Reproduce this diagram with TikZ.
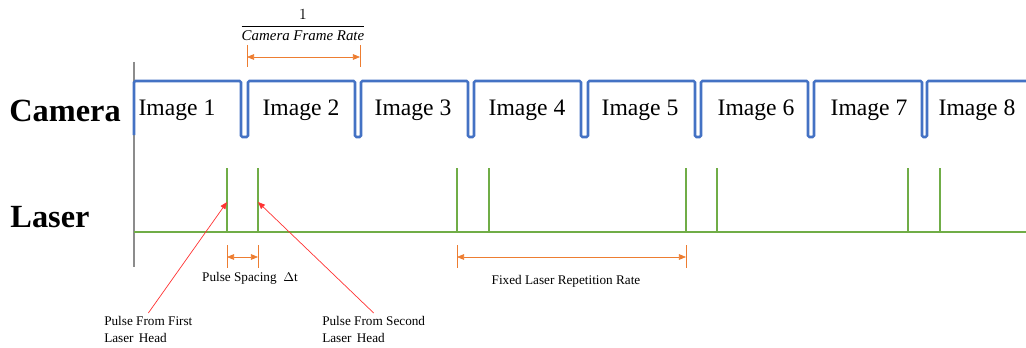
\documentclass[tikz,border=0pt]{standalone}
\usepackage{amsmath,amssymb}
\usepackage{fontspec}
\setmainfont{Liberation Serif}
\usepackage{tikz}
\usetikzlibrary{arrows.meta,positioning,calc}

\definecolor{camblue}{RGB}{68,114,196}
\definecolor{lasgreen}{RGB}{112,173,71}
\definecolor{dimorange}{RGB}{237,125,49}
\definecolor{axisgray}{RGB}{140,140,140}

\tikzset{
  camline/.style={camblue, line width=1.8pt, rounded corners=1pt},
  lasline/.style={lasgreen, line width=1.3pt},
  dimline/.style={dimorange, line width=0.5pt},
  dimarrow/.style={dimorange, line width=0.5pt, {Triangle[length=5pt,width=4pt]}-{Triangle[length=5pt,width=4pt]}},
  pointer/.style={red!80!white, line width=0.5pt, -{Triangle[length=5pt,width=4pt]}},
  imglabel/.style={font=\fontsize{16.8}{18}\selectfont},
  rowlabel/.style={font=\fontsize{23}{26}\selectfont\bfseries},
  smalllabel/.style={font=\fontsize{9.4}{12}\selectfont, align=left, inner sep=0pt}
}

\begin{document}
\begin{tikzpicture}[x=0.025cm, y=-0.025cm]
\useasboundingbox (0,0) rectangle (1026,348);

% axis and row names
\draw[axisgray, line width=1.3pt] (134,62) -- (134,267);
\node[rowlabel] (cam) at (65,111) {Camera};
\node[rowlabel] (las) at (50,217) {Laser};

% camera exposures
\draw[camline] (134,135) -- (134,81) -- (241,81) -- (241,137) -- (248,137) -- (248,81)
  -- (355,81) -- (355,137) -- (361,137) -- (361,81) -- (468,81) -- (468,137) -- (474,137) -- (474,81)
  -- (581,81) -- (581,137) -- (588,137) -- (588,81) -- (695,81) -- (695,137) -- (701,137) -- (701,81)
  -- (808,81) -- (808,137) -- (814,137) -- (814,81) -- (922,81) -- (922,137) -- (927,137) -- (927,81)
  -- (1030,81);
\node[imglabel] (img1) at (177,110) {Image 1};
\node[imglabel] (img2) at (301,110) {Image 2};
\node[imglabel] (img3) at (413,110) {Image 3};
\node[imglabel] (img4) at (527,110) {Image 4};
\node[imglabel] (img5) at (640,110) {Image 5};
\node[imglabel] (img6) at (756,110) {Image 6};
\node[imglabel] (img7) at (869,110) {Image 7};
\node[imglabel] (img8) at (977,110) {Image 8};

% laser pulses
\draw[lasline] (134,232) -- (1030,232);
\draw[lasline] (227,232) -- (227,168);
\draw[lasline] (258,232) -- (258,168);
\draw[lasline] (457,232) -- (457,168);
\draw[lasline] (489,232) -- (489,168);
\draw[lasline] (686,232) -- (686,168);
\draw[lasline] (717,232) -- (717,168);
\draw[lasline] (908,232) -- (908,168);
\draw[lasline] (940,232) -- (940,168);
\coordinate (hitfirst) at (227,202);
\coordinate (hitsecond) at (258,202);

% frame period
\node (period) at (303,25) {\fontsize{10.6}{12}\selectfont$\dfrac{1}{\mathit{Camera\ Frame\ Rate}}$};
\coordinate (pa) at (247,57);
\coordinate (pb) at (360,57);
\draw[dimline] (247,45) -- (247,67);
\draw[dimline] (360,45) -- (360,67);
\draw[dimarrow] (pa) -- (pb);

% pulse spacing
\coordinate (sa) at (227,257);
\coordinate (sb) at (258,257);
\draw[dimline] (227,245) -- (227,268);
\draw[dimline] (258,245) -- (258,268);
\draw[dimarrow] (sa) -- (sb);
\node[smalllabel] (spacing) at (250,278) {Pulse Spacing\ \ $\Delta$t};

% repetition rate
\coordinate (ra) at (457,257);
\coordinate (rb) at (686,257);
\draw[dimline] (457,245) -- (457,268);
\draw[dimline] (686,245) -- (686,268);
\draw[dimarrow] (ra) -- (rb);
\node[smalllabel] (reprate) at (566,281) {Fixed Laser Repetition Rate};

% laser heads
\node[smalllabel, anchor=north west] (pfirst) at (104,316) {Pulse From First\\Laser\hspace{0.15em} Head};
\node[smalllabel, anchor=north west] (psecond) at (322,316) {Pulse From Second\\Laser\hspace{0.15em} Head};
\draw[pointer] (pfirst.north) ++(0,-3) -- (hitfirst);
\draw[pointer] (psecond.north) ++(0,-3) -- (hitsecond);
\end{tikzpicture}
\end{document}
